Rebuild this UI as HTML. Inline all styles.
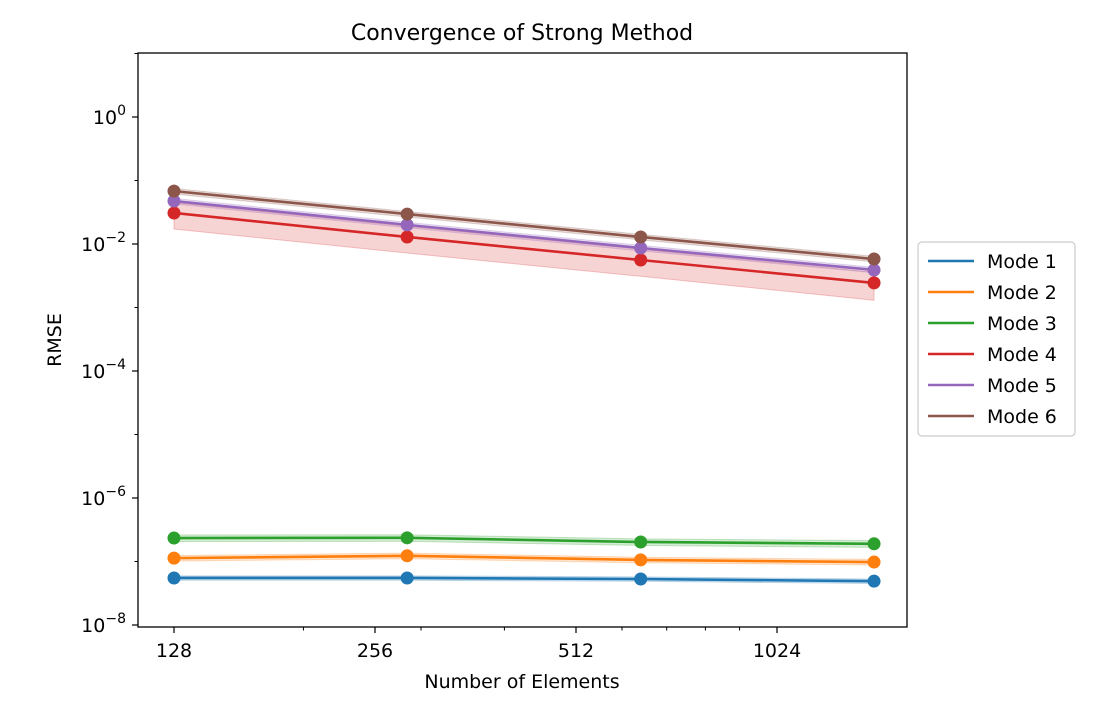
<!DOCTYPE html>
<html><head><meta charset="utf-8">
<style>
body{margin:0;background:#fff;font-family:"Liberation Sans","DejaVu Sans",sans-serif;}
svg{display:block}
text{font-family:"DejaVu Sans","Liberation Sans",sans-serif;fill:#000}
</style></head>
<body>
<svg id="chart" width="1103" height="722" xmlns="http://www.w3.org/2000/svg">
<text x="522" y="40" font-size="22" text-anchor="middle">Convergence of Strong Method</text>
<text x="522" y="688" font-size="19" text-anchor="middle">Number of Elements</text>
<text x="0" y="0" font-size="19" text-anchor="middle" transform="translate(61,340) rotate(-90)">RMSE</text>
<g id="plot"></g>
</svg>
<script>
const elements=[128,286,640,1431];
const modeNames=["Mode 1","Mode 2","Mode 3","Mode 4","Mode 5","Mode 6"];
const mode1=[5.5e-8,5.5e-8,5.3e-8,4.9e-8];
const mode2=[1.13e-7,1.23e-7,1.06e-7,9.8e-8];
const mode3=[2.34e-7,2.36e-7,2.03e-7,1.9e-7];
const mode4=[0.0308,0.0129,0.0056,0.00244];
const mode5=[0.0475,0.020,0.00865,0.0039];
const mode6=[0.068,0.0296,0.0129,0.0058];
const mode4Low=[0.0172,0.0072,0.0031,0.0013];
const mode4High=[0.045,0.019,0.0083,0.0036];
const bandFrac=[0.08,0.1,0.12,0,0.1,0.1];
const xTicks=[128,256,512,1024];
const xMinor=[200,300,400,600,700,800,900];
const yTickExp=[0,-2,-4,-6,-8];
const colors=["#1f77b4","#ff7f0e","#2ca02c","#d62728","#9467bd","#8c564b"];
const series=[mode1,mode2,mode3,mode4,mode5,mode6];

const L=138,R=907,T=53,B=627;
const xs=v=>174+201*Math.log2(v/128);
const ys=v=>117-63.5*Math.log10(v);
const NS="http://www.w3.org/2000/svg";
const plot=document.getElementById('plot');
function mk(tag,attrs,parent){const e=document.createElementNS(NS,tag);for(const k in attrs)e.setAttribute(k,attrs[k]);(parent||plot).appendChild(e);return e;}

series.forEach((s,i)=>{
  let lo,hi;
  if(i===3){lo=mode4Low;hi=mode4High;}
  else{lo=s.map(v=>v*(1-bandFrac[i]));hi=s.map(v=>v*(1+bandFrac[i]));}
  const pts=elements.map((x,j)=>xs(x)+','+ys(hi[j])).concat(elements.map((x,j)=>xs(x)+','+ys(lo[j])).reverse());
  const p=mk('polygon',{points:pts.join(' '),fill:colors[i],'fill-opacity':0.2,stroke:colors[i],'stroke-opacity':0.25});
  
  
});
series.forEach((s,i)=>{
  const l=mk('polyline',{points:elements.map((x,j)=>xs(x)+','+ys(s[j])).join(' '),fill:'none',stroke:colors[i],'stroke-width':2.6});
  
  
  elements.forEach((x,j)=>{
    const c=mk('circle',{cx:xs(x),cy:ys(s[j]),r:6.5,fill:colors[i]});
    
    
  });
});
const fr=mk('rect',{x:L,y:T,width:R-L,height:B-T,fill:'none',stroke:'#000','stroke-width':1.3});


xTicks.forEach(v=>{
  const x=xs(v);
  mk('line',{x1:x,x2:x,y1:B,y2:B+6,stroke:'#000','stroke-width':1.2});
  const t=mk('text',{x:x,y:B+30,'font-size':19,'text-anchor':'middle'});t.textContent=v;
  
  
});
xMinor.forEach(v=>{const x=xs(v);if(x>L&&x<R)mk('line',{x1:x,x2:x,y1:B,y2:B+3.5,stroke:'#000','stroke-width':1});});
for(let e=-8;e<=1;e++){const y=ys(Math.pow(10,e));mk('line',{x1:L-(e%2===0?6:3.5),x2:L,y1:y,y2:y,stroke:'#000','stroke-width':e%2===0?1.2:1});}
yTickExp.forEach(e=>{
  const y=ys(Math.pow(10,e));
  const t=mk('text',{x:L-12,y:y+7,'font-size':19,'text-anchor':'end'});
  
  
  const a=document.createElementNS(NS,'tspan');a.textContent='10';t.appendChild(a);
  const b=document.createElementNS(NS,'tspan');b.setAttribute('dy','-9');b.setAttribute('font-size','14');b.textContent=e===0?'0':'\u2212'+(-e);t.appendChild(b);
});
const lg=mk('g',{});


mk('rect',{x:918,y:242,width:157,height:194,rx:4,fill:'#fff',stroke:'#ccc','stroke-width':1.2},lg);
modeNames.forEach((n,i)=>{
  const y=261+i*31;
  const g=mk('g',{},lg);
  
  
  mk('line',{x1:928,x2:974,y1:y,y2:y,stroke:colors[i],'stroke-width':2.6},g);
  const t=mk('text',{x:987,y:y+7,'font-size':19},g);t.textContent=n;
});
</script>
</body></html>
